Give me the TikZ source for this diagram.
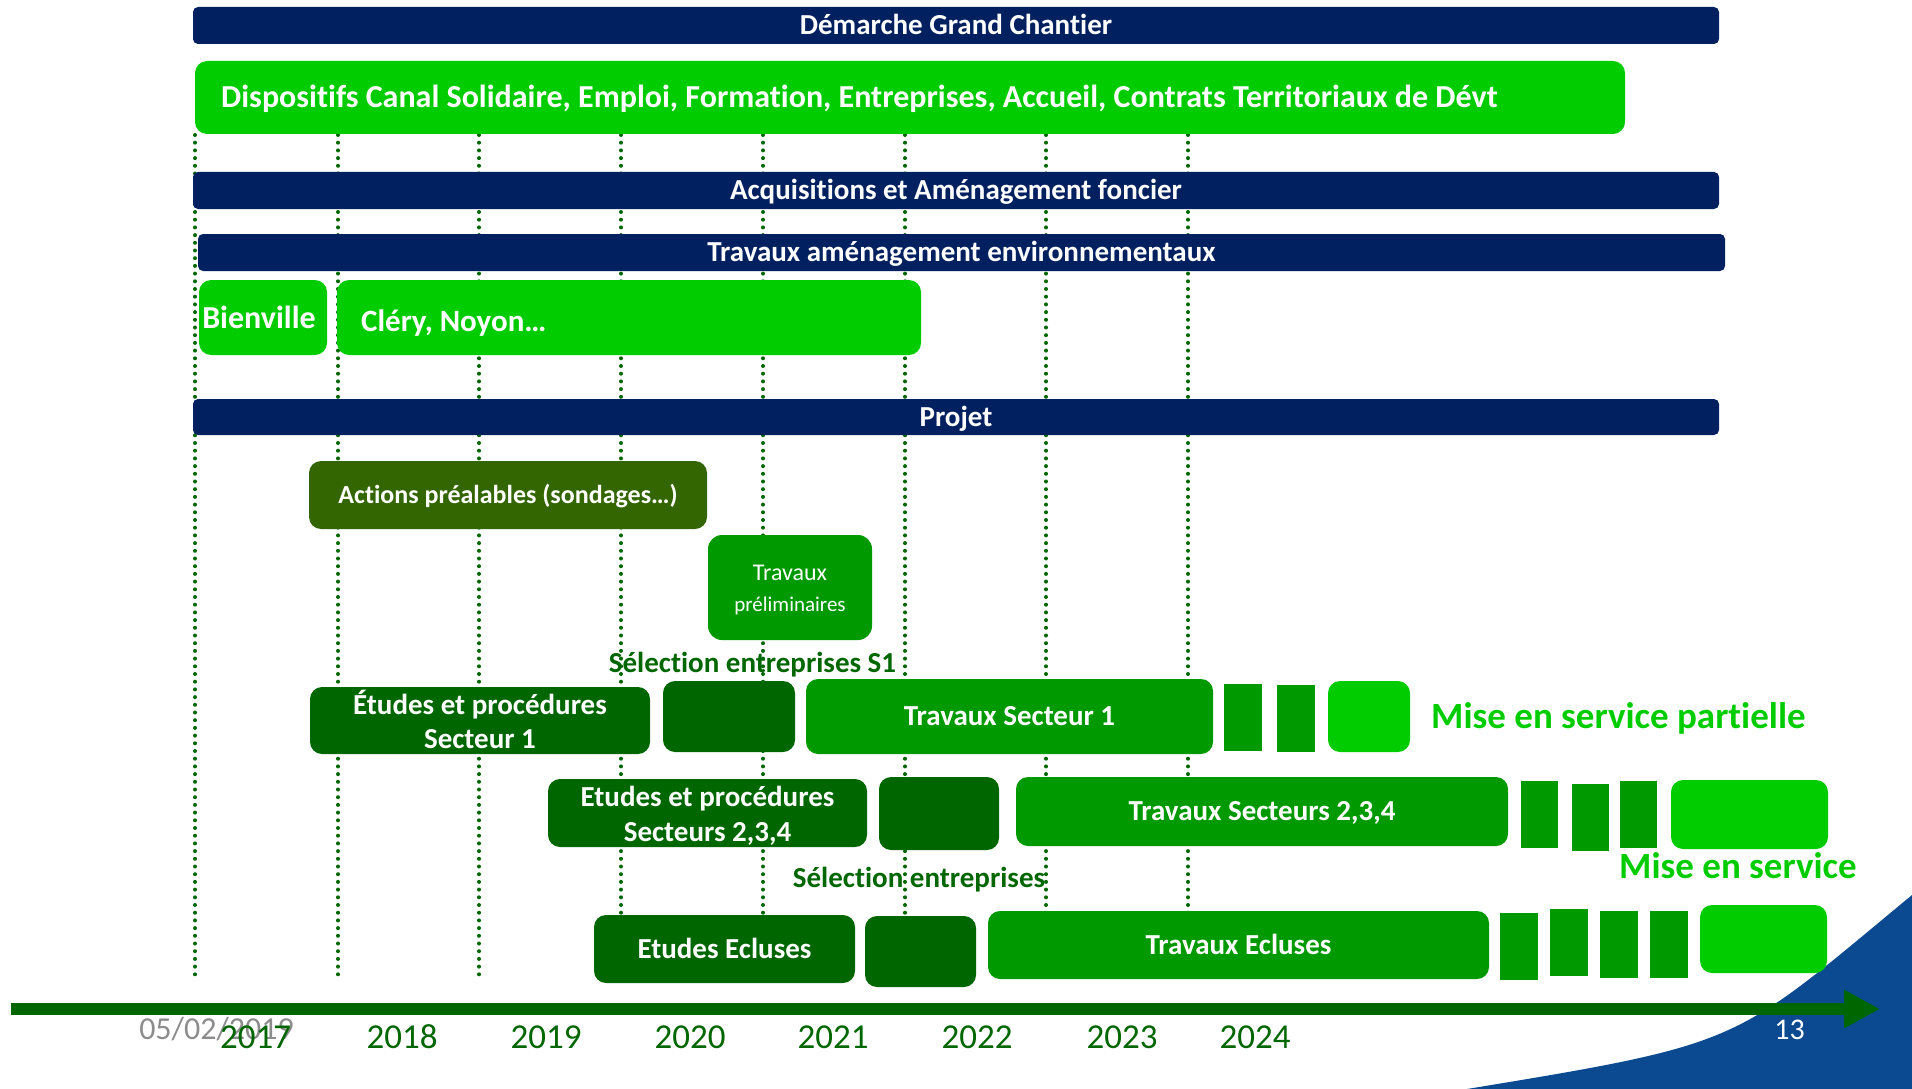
\documentclass[tikz,border=0pt]{standalone}
\usepackage{fontspec}
\setmainfont{Carlito}[RawFeature=-liga,RawFeature=-clig,RawFeature=-calt,RawFeature=-dlig]
\usetikzlibrary{arrows.meta}
\definecolor{navy}{HTML}{002060}
\definecolor{gbright}{HTML}{00CC00}
\definecolor{gmed}{HTML}{009900}
\definecolor{gdark}{HTML}{006600}
\definecolor{golive}{HTML}{336600}
\definecolor{bgblue}{HTML}{0B4A90}
\definecolor{dategray}{HTML}{8C8C8C}
\newcommand\myfs[1]{\fontsize{#1}{#1}\selectfont}
\tikzset{
  bar/.style={fill=navy, rounded corners=5pt, inner sep=0pt, text=white,
    font=\bfseries\myfs{29}, text height=18.3pt, text depth=0pt},
  gbox/.style={rounded corners=12pt, inner sep=0pt, text=white,
    font=\bfseries\myfs{29}, text height=18.3pt, text depth=0pt},
  blk/.style={fill=gmed, inner sep=0pt},
  txt/.style={inner sep=0pt, text=white, font=\bfseries\myfs{29}, text height=18.3pt, text depth=0pt},
  vline/.style={gdark, line width=4pt, line cap=round, dash pattern=on 0pt off 7.7pt},
  lbl/.style={inner sep=0pt, font=\bfseries\myfs{29}, text=gdark, text height=18.3pt, text depth=0pt},
  mes/.style={inner sep=0pt, anchor=west, font=\bfseries\myfs{37}, text=gbright, text height=23.4pt, text depth=0pt},
  year/.style={inner sep=0pt, anchor=base, font=\myfs{35}, text=gdark},
  axis/.style={gdark, line width=12pt, -{Triangle[length=36pt,width=36pt]}},
}
\begin{document}
\begin{tikzpicture}[x=1pt, y=-1pt]
\useasboundingbox (0,0) rectangle (1912,1089);
% background blue corner
\fill[bgblue] (1467,1089) .. controls (1747,1043) and (1732,1044) .. (1912,895) -- (1912,1089) -- cycle;

% labels under the dotted lines
\node[lbl] (selS1) at (752.5,663) {Sélection entreprises S1};
\node[lbl] (sel) at (919,878) {Sélection entreprises};

% dotted year lines
\foreach \x [count=\i] in {195,338,479,621,763,905,1046,1188} {
  \coordinate (vt\i) at (\x,135);
  \coordinate (vb\i) at (\x,976);
  \draw[vline] (vt\i) -- (vb\i);
}

% navy bars
\node[bar, minimum width=1526pt, minimum height=37pt] (dem) at (956,25.5) {Démarche Grand Chantier};
\node[bar, minimum width=1526pt, minimum height=37pt] (acq) at (956,190.5) {Acquisitions et Aménagement foncier};
\node[bar, minimum width=1527pt, minimum height=37pt] (env) at (961.5,252.5) {Travaux aménagement environnementaux};
\node[bar, minimum width=1526pt, minimum height=36pt] (proj) at (956,417) {Projet};

% bright green bands
\node[gbox, fill=gbright, minimum width=1430pt, minimum height=73pt] (disp) at (910,97.5) {};
\node[txt, anchor=west, font=\bfseries\myfs{32}, text height=20.2pt] (disptxt) at (221,97.5)
  {Dispositifs Canal Solidaire, Emploi, Formation, Entreprises, Accueil, Contrats Territoriaux de Dévt};
\node[gbox, fill=gbright, minimum width=128pt, minimum height=75pt] (bien) at (263,317.5) {};
\node[txt, font=\bfseries\myfs{32}, text height=20.2pt] (bientxt) at (259,318.5) {Bienville};
\node[gbox, fill=gbright, minimum width=584pt, minimum height=75pt] (clery) at (629,317.5) {};
\node[txt, anchor=west, font=\bfseries\myfs{31}, text height=19.6pt] (clerytxt) at (361,322) {Cléry, Noyon…};

% project boxes
\node[gbox, fill=golive, minimum width=398pt, minimum height=68pt, font=\bfseries\myfs{26}, text height=16.4pt] (act) at (508,495) {Actions préalables (sondages…)};
\node[gbox, fill=gmed, rounded corners=14pt, minimum width=164pt, minimum height=105pt] (prel) at (790,587.5) {};
\node[txt, font=\myfs{24}, text height=15.2pt] (prel1) at (790,573) {Travaux};
\node[txt, font=\myfs{21}, text height=13.3pt] (prel2) at (790,605) {préliminaires};

% Secteur 1 row
\node[gbox, fill=gdark, minimum width=340pt, minimum height=67pt] (etS1) at (480,720.5) {};
\node[txt] (etS1a) at (480,705) {Études et procédures};
\node[txt] (etS1b) at (480,739) {Secteur 1};
\node[gbox, fill=gdark, minimum width=132pt, minimum height=71pt] (dk1) at (729,716.5) {};
\node[gbox, fill=gmed, minimum width=407pt, minimum height=75pt] (trS1) at (1009.5,716.5) {Travaux Secteur 1};
\node[blk, minimum width=38pt, minimum height=67pt] (r1a) at (1243,717.5) {};
\node[blk, minimum width=38pt, minimum height=67pt] (r1b) at (1296,718.5) {};
\node[gbox, fill=gbright, minimum width=82pt, minimum height=71pt] (lg1) at (1369,716.5) {};
\node[mes] (mes1) at (1431,717) {Mise en service partielle};

% Secteurs 2,3,4 row
\node[gbox, fill=gdark, minimum width=319pt, minimum height=68pt] (et234) at (707.5,813) {};
\node[txt] (et234a) at (707.5,797) {Etudes et procédures};
\node[txt] (et234b) at (707.5,832) {Secteurs 2,3,4};
\node[gbox, fill=gdark, minimum width=120pt, minimum height=73pt] (dk2) at (939,813.5) {};
\node[gbox, fill=gmed, minimum width=492pt, minimum height=69pt] (tr234) at (1262,811.5) {Travaux Secteurs 2,3,4};
\node[blk, minimum width=37pt, minimum height=67pt] (r2a) at (1539.5,814.5) {};
\node[blk, minimum width=37pt, minimum height=67pt] (r2b) at (1590.5,817.5) {};
\node[blk, minimum width=37pt, minimum height=67pt] (r2c) at (1638.5,814.5) {};
\node[gbox, fill=gbright, minimum width=157pt, minimum height=69pt] (lg2) at (1749.5,814.5) {};
\node[mes] (mes2) at (1619,867) {Mise en service};

% Ecluses row
\node[gbox, fill=gdark, minimum width=261pt, minimum height=68pt] (etEc) at (724.5,949) {Etudes Ecluses};
\node[gbox, fill=gdark, minimum width=111pt, minimum height=71pt] (dk3) at (920.5,951.5) {};
\node[gbox, fill=gmed, minimum width=501pt, minimum height=68pt] (trEc) at (1238.5,945) {Travaux Ecluses};
\node[blk, minimum width=38pt, minimum height=67pt] (r3a) at (1519,946.5) {};
\node[blk, minimum width=38pt, minimum height=67pt] (r3b) at (1569,942.5) {};
\node[blk, minimum width=38pt, minimum height=67pt] (r3c) at (1619,944.5) {};
\node[blk, minimum width=38pt, minimum height=67pt] (r3d) at (1669,944.5) {};
\node[gbox, fill=gbright, minimum width=127pt, minimum height=68pt] (lg3) at (1763.5,939) {};

% time axis
\coordinate (ax0) at (11,1009);
\coordinate (ax1) at (1880,1009);
\draw[axis] (ax0) -- (ax1);

% footer texts
\node[inner sep=0pt, anchor=base, font=\myfs{32}, text=dategray] (date) at (216.5,1039) {05/02/2019};
\node[inner sep=0pt, anchor=base, font=\myfs{30}, text=white] (pg) at (1789.5,1039) {13};
\node[year] (y17) at (255.5,1048) {2017};
\node[year] (y18) at (402,1048) {2018};
\node[year] (y19) at (546,1048) {2019};
\node[year] (y20) at (690,1048) {2020};
\node[year] (y21) at (833,1048) {2021};
\node[year] (y22) at (977,1048) {2022};
\node[year] (y23) at (1122,1048) {2023};
\node[year] (y24) at (1255,1048) {2024};
\end{tikzpicture}
\end{document}
